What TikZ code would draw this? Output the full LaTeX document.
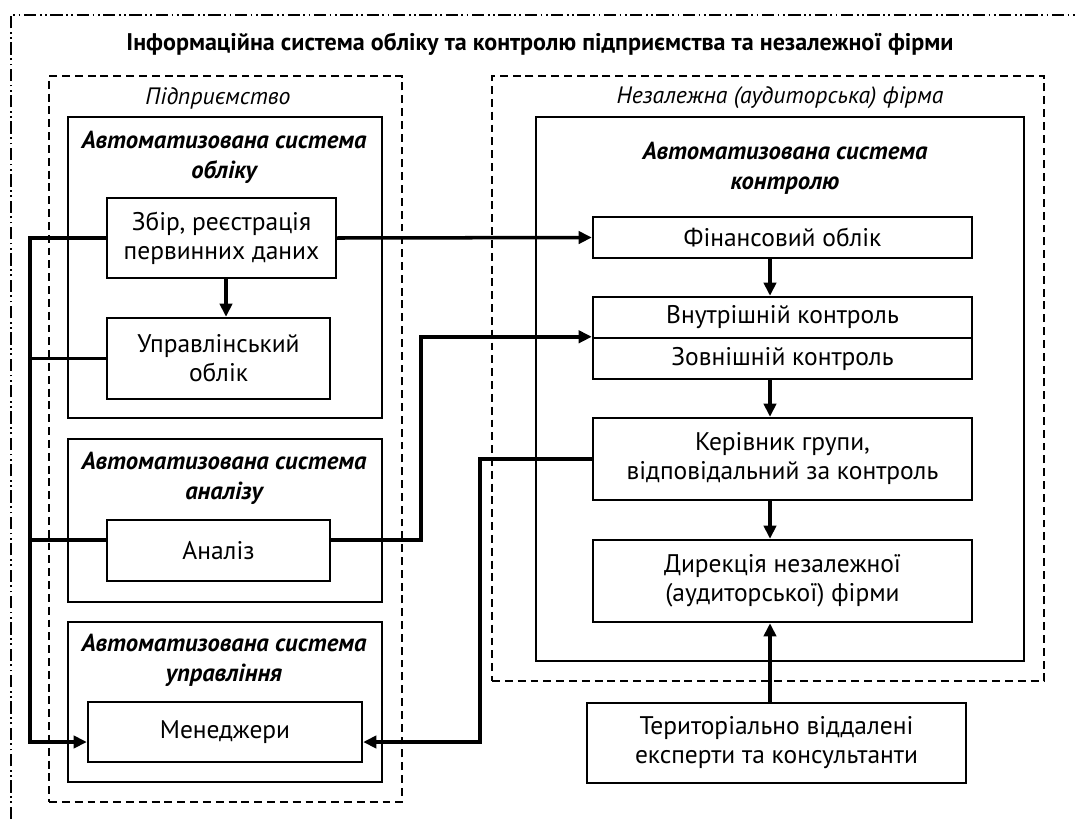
\documentclass[tikz,border=0pt]{standalone}
\usepackage{fontspec}
\setmainfont{PT Sans}
\usetikzlibrary{arrows.meta,calc}
\tikzset{
  box/.style={draw, line width=1.4pt, rectangle, inner sep=0pt, align=center, font=\fontsize{14.5}{16.5}\selectfont},
  frame/.style={draw, line width=1.4pt, rectangle, inner sep=0pt},
  dbox/.style={draw, line width=1.1pt, dash pattern=on 4.5pt off 2.8pt, rectangle, inner sep=0pt},
  conn/.style={line width=2pt},
  arr/.style={line width=2pt, -{Triangle[length=7.5pt,width=7pt]}},
  head/.style={align=center, font=\fontsize{14}{17}\selectfont\bfseries\itshape, inner sep=0pt},
  lab/.style={font=\fontsize{13.5}{16}\selectfont\itshape, inner sep=0pt},
  outer/.style={line width=0.9pt, dash pattern=on 7pt off 2pt on 1pt off 2pt on 1pt off 2pt}
}
\begin{document}
\begin{tikzpicture}[x=0.02cm,y=-0.02cm]
\useasboundingbox (0,0) rectangle (1075,819);
% outer frame (partial)
\coordinate (oTL) at (11,15);
\coordinate (oTR) at (1075,15);
\coordinate (oBL) at (11,819);
\draw[outer] (oBL) -- (oTL) -- (oTR);
\node[font=\fontsize{13.7}{16}\selectfont\bfseries, inner sep=0pt] (title) at (540,44) {Інформаційна система обліку та контролю підприємства та незалежної фірми};

% left dashed: enterprise
\node[dbox, minimum width=7.06cm, minimum height=14.52cm] (pidpr) at (225.5,439) {};
\node[lab] (pidprl) at (218,98) {Підприємство};
\node[frame, minimum width=6.28cm, minimum height=6.02cm] (as1) at (225,267.5) {};
\node[head] (as1h) at (224,157) {Автоматизована система\\обліку};
\node[frame, minimum width=6.28cm, minimum height=3.26cm] (as2) at (225,520.5) {};
\node[head] (as2h) at (224,478) {Автоматизована система\\аналізу};
\node[frame, minimum width=6.28cm, minimum height=3.2cm] (as3) at (225,702) {};
\node[head] (as3h) at (224,660) {Автоматизована система\\управління};

\node[box, minimum width=4.58cm, minimum height=1.6cm] (zbir) at (221.5,238) {Збір, реєстрація\\первинних даних};
\node[box, minimum width=4.46cm, minimum height=1.62cm] (uprav) at (218.5,358.5) {Управлінський\\облік};
\node[box, minimum width=4.46cm, minimum height=1.22cm] (analiz) at (218.5,550.5) {Аналіз};
\node[box, minimum width=5.48cm, minimum height=1.2cm] (menedz) at (225,732) {Менеджери};

% right dashed: independent firm
\node[dbox, minimum width=11.04cm, minimum height=12.1cm] (nez) at (768,378.5) {};
\node[lab] (nezl) at (780,98) {Незалежна (аудиторська) фірма};
\node[frame, minimum width=9.76cm, minimum height=10.88cm] (kontr) at (780,389) {};
\node[head] (kontrh) at (785,168) {Автоматизована система\\контролю};

\node[box, minimum width=7.58cm, minimum height=0.82cm] (fin) at (782.5,237.5) {Фінансовий облік};
\node[box, minimum width=7.58cm, minimum height=0.82cm] (vnutr) at (782.5,317.5) {Внутрішній контроль};
\node[box, minimum width=7.58cm, minimum height=0.82cm] (zovn) at (782.5,358.5) {Зовнішній контроль};
\node[box, minimum width=7.58cm, minimum height=1.64cm] (ker) at (782.5,459) {Керівник групи,\\відповідальний за контроль};
\node[box, minimum width=7.58cm, minimum height=1.64cm] (dyr) at (782.5,581) {Дирекція незалежної\\(аудиторської) фірми};
\node[box, minimum width=7.58cm, minimum height=1.6cm] (ter) at (776.5,743) {Територіально віддалені\\експерти та консультанти};

% helper coordinates
\coordinate (ax) at (770,0);
\coordinate (busx) at (30,0);
\coordinate (my) at (0,742);
\coordinate (ay) at (0,540);
\coordinate (ux) at (226,0);
\coordinate (anx) at (421,0);
\coordinate (kx) at (480,0);

% connectors left
\draw[arr] (zbir.west) -- (busx |- zbir.west) -- (busx |- my) -- (menedz.west |- my);
\draw[conn] (uprav.west) -- (busx |- uprav.west);
\draw[conn] (analiz.west |- ay) -- (busx |- ay);
\draw[arr] (ux |- zbir.south) -- (ux |- uprav.north);

% connectors right
\draw[arr] (zbir.east) -- (fin.west);
\draw[arr] (analiz.east |- ay) -- (anx |- ay) -- (anx |- zovn.north west) -- (zovn.north west);
\draw[arr] (ker.west) -- (kx |- ker.west) -- (kx |- my) -- (menedz.east |- my);
\draw[arr] (ax |- fin.south) -- (ax |- vnutr.north);
\draw[arr] (ax |- zovn.south) -- (ax |- ker.north);
\draw[arr] (ax |- ker.south) -- (ax |- dyr.north);
\draw[arr] (ax |- ter.north) -- (ax |- dyr.south);
\end{tikzpicture}
\end{document}
